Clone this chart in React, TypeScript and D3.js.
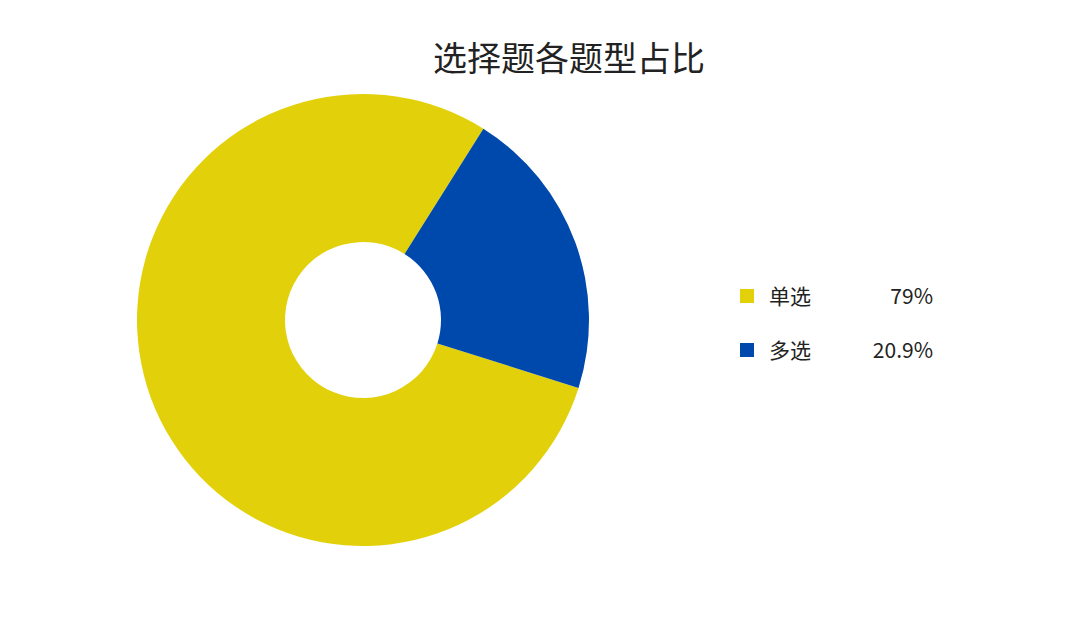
import { useEffect, useRef } from "react";
import * as d3 from "d3";

const categories = ["单选", "多选"];
const values = [79, 20.9];
const valueLabels = ["79%", "20.9%"];
const colors = ["#E2D10A", "#0049AC"];
const title = "选择题各题型占比";

const width = 1080;
const height = 643;
const font = "'Noto Sans CJK SC', 'Noto Sans', sans-serif";

export default function App() {
  const ref = useRef<SVGSVGElement | null>(null);

  useEffect(() => {
    const svg = d3.select(ref.current);
    svg.selectAll("*").remove();

    const cx = 363;
    const cy = 320;
    const outer = 226;
    const inner = 78;
    const start = (107.5 * Math.PI) / 180;

    const pie = d3
      .pie<number>()
      .sort(null)
      .startAngle(start)
      .endAngle(start + 2 * Math.PI);

    const arc = d3
      .arc<d3.PieArcDatum<number>>()
      .innerRadius(inner)
      .outerRadius(outer);

    svg
      .append("g")
      .attr("transform", `translate(${cx},${cy})`)
      .selectAll("path")
      .data(pie(values))
      .join("path")
      .attr("fill", (_, i) => colors[i])
      .attr("d", arc);

    svg
      .append("text")
      .attr("x", 569)
      .attr("y", 71)
      .attr("text-anchor", "middle")
      .attr("font-family", font)
      .attr("font-size", 34)
      .attr("fill", "#222")
      .text(title);

    const y = d3
      .scalePoint<string>()
      .domain(categories)
      .range([296, 350]);

    const legend = svg
      .append("g")
      .selectAll("g")
      .data(categories)
      .join("g")
      .attr("transform", (d) => `translate(0,${y(d)})`);

    legend
      .append("rect")
      .attr("x", 740)
      .attr("y", -7)
      .attr("width", 14)
      .attr("height", 14)
      .attr("fill", (_, i) => colors[i]);

    legend
      .append("text")
      .attr("x", 769)
      .attr("y", 8)
      .attr("font-family", font)
      .attr("font-size", 21)
      .attr("fill", "#222")
      .text((d) => d);

    legend
      .append("text")
      .attr("x", 933)
      .attr("y", 8)
      .attr("text-anchor", "end")
      .attr("font-family", font)
      .attr("font-size", 21)
      .attr("fill", "#222")
      .text((_, i) => valueLabels[i]);
  }, []);

  return (
    <svg
      ref={ref}
      width={width}
      height={height}
      style={{ display: "block", position: "absolute", left: 0, top: 0 }}
    />
  );
}
